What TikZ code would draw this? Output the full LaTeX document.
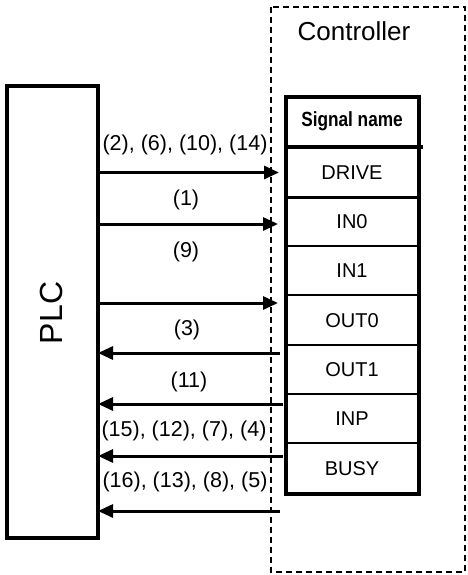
\documentclass[tikz,border=0pt]{standalone}
\usepackage{fontspec}
\setmainfont{Liberation Sans}
\usetikzlibrary{arrows.meta}
\tikzset{
  lbl/.style={inner sep=0pt, font=\fontsize{21.5}{23}\selectfont},
  cell/.style={inner sep=0pt, font=\fontsize{20}{22}\selectfont},
  thickbox/.style={line width=4pt},
  rowline/.style={line width=2.5pt},
  sig/.style={line width=3pt, -{Triangle[length=15pt,width=13pt]}},
}
\begin{document}
\begin{tikzpicture}[x=1pt,y=-1pt]
\useasboundingbox (0,0) rectangle (467,575);
% controller dashed frame
\draw[line width=2pt, dash pattern=on 6pt off 4pt] (271,7) rectangle (465,572);
\node[inner sep=0pt, font=\fontsize{26}{28}\selectfont] (ctrl) at (354,31) {Controller};
% PLC box
\draw[thickbox] (7,86) rectangle (97.5,537.5);
\node[inner sep=0pt, rotate=90, font=\fontsize{32}{34}\selectfont] (plc) at (51,313) {PLC};
% signal table
\draw[thickbox] (286,97) rectangle (419,494);
\draw[thickbox] (286,147) -- (422.5,147);
\foreach \yy in {197.5,246,295,345,394,443}
  \draw[rowline] (286,\yy) -- (419,\yy);
\node[inner sep=0pt, font=\bfseries\fontsize{20.5}{22}\selectfont, xscale=0.84] (hdr) at (352,121) {Signal name};
\node[cell] (drive) at (352,173) {DRIVE};
\node[cell] (in0) at (352,222) {IN0};
\node[cell] (in1) at (352,271) {IN1};
\node[cell] (out0) at (352,321) {OUT0};
\node[cell] (out1) at (352,370) {OUT1};
\node[cell] (inp) at (352,419) {INP};
\node[cell] (busy) at (352,469) {BUSY};
% arrow end points
\coordinate (a1s) at (99,172.5);  \coordinate (a1e) at (279,172.5);
\coordinate (a2s) at (99,224);  \coordinate (a2e) at (278,224);
\coordinate (a3s) at (99,303);  \coordinate (a3e) at (278,303);
\coordinate (a4s) at (280,353); \coordinate (a4e) at (98,353);
\coordinate (a5s) at (283,404); \coordinate (a5e) at (98,404);
\coordinate (a6s) at (283,456); \coordinate (a6e) at (98,456);
\coordinate (a7s) at (280,511); \coordinate (a7e) at (98,511);
\draw[sig] (a1s) -- (a1e);
\draw[sig] (a2s) -- (a2e);
\draw[sig] (a3s) -- (a3e);
\draw[sig] (a4s) -- (a4e);
\draw[sig] (a5s) -- (a5e);
\draw[sig] (a6s) -- (a6e);
\draw[sig] (a7s) -- (a7e);
% labels
\node[lbl] (l1) at (185,145) {(2), (6), (10), (14)};
\node[lbl] (l2) at (186,200) {(1)};
\node[lbl] (l3) at (186,252) {(9)};
\node[lbl] (l4) at (187,330) {(3)};
\node[lbl] (l5) at (189,382) {(11)};
\node[lbl] (l6) at (184,431) {(15), (12), (7), (4)};
\node[lbl] (l7) at (185,482) {(16), (13), (8), (5)};
\end{tikzpicture}
\end{document}
